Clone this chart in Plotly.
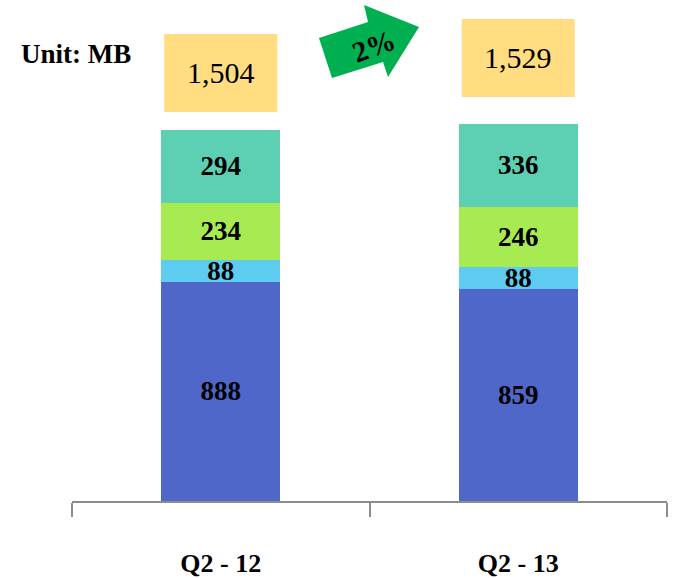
import plotly.graph_objects as go

categories = ["Q2 - 12", "Q2 - 13"]
seg1 = [888, 859]
seg2 = [88, 88]
seg3 = [234, 246]
seg4 = [294, 336]
growth_label = "2%"
unit_label = "Unit: MB"

colors = ["#4E67C8", "#5ECCF0", "#A8EA52", "#5DCFB2"]
series = [seg1, seg2, seg3, seg4]
totals = [sum(v) for v in zip(*series)]

W, H = 673, 578
ML, MR, MT, MB = 72, 6, 57, 77
PW = W - ML - MR
PH = H - MT - MB


def px(x):
    return (x - ML) / PW


def py(y):
    return (H - MB - y) / PH


SERIF = "Liberation Serif, Times New Roman, serif"

fig = go.Figure()
for vals, col in zip(series, colors):
    fig.add_trace(go.Bar(
        x=categories, y=vals, width=0.4,
        marker=dict(color=col, line=dict(width=0)),
        texttemplate="<b>%{y}</b>", textposition="inside",
        insidetextanchor="middle", textangle=0, constraintext="none",
        textfont=dict(family=SERIF, size=27, color="black"),
        showlegend=False, hoverinfo="skip",
    ))

# yellow total boxes (pixel tops/bottoms per category)
box_px = [(34, 112), (19, 97)]
shapes = []
annotations = []
for i, (tot, (top, bot)) in enumerate(zip(totals, box_px)):
    shapes.append(dict(type="rect", xref="x", yref="paper",
                       x0=i - 0.19, x1=i + 0.19, y0=py(bot), y1=py(top),
                       fillcolor="#FFDD80", line=dict(width=0), layer="above"))
    annotations.append(dict(xref="x", yref="paper", x=i, y=py((top + bot) / 2),
                            text=f"{tot:,}", showarrow=False,
                            font=dict(family=SERIF, size=30, color="black"),
                            xanchor="center", yanchor="middle"))

# green arrow
arrow_pts = [(319, 38), (368, 22), (364, 5), (419, 27), (388, 77), (383, 62), (332, 78)]
path = "M " + " L ".join(f"{px(a):.4f},{py(b):.4f}" for a, b in arrow_pts) + " Z"
shapes.append(dict(type="path", xref="paper", yref="paper", path=path,
                   fillcolor="#00B050", line=dict(width=0), layer="above"))
annotations.append(dict(xref="paper", yref="paper", x=px(374), y=py(46),
                        text=f"<b>{growth_label}</b>", showarrow=False, textangle=-20,
                        font=dict(family=SERIF, size=29, color="black"),
                        xanchor="center", yanchor="middle"))

annotations.append(dict(xref="paper", yref="paper", x=px(76), y=py(54),
                        text=f"<b>{unit_label}</b>", showarrow=False,
                        font=dict(family=SERIF, size=27, color="black"),
                        xanchor="center", yanchor="middle"))

fig.update_layout(
    width=W, height=H,
    margin=dict(l=ML, r=MR, t=MT, b=MB),
    barmode="stack",
    plot_bgcolor="white", paper_bgcolor="white",
    shapes=shapes, annotations=annotations,
    xaxis=dict(showline=True, linecolor="#8C8C8C", linewidth=1.5,
               ticks="outside", tickcolor="#8C8C8C", tickwidth=1.5, ticklen=14,
               tickson="boundaries", showgrid=False, ticklabelstandoff=38,
               automargin=False,
               tickfont=dict(family=SERIF, size=26, color="black", weight="bold")),
    yaxis=dict(range=[0, 1800], visible=False, showgrid=False, automargin=False),
)

fig.write_html("out.html", config={"displayModeBar": False},
               post_script="document.body.style.margin='0';")
